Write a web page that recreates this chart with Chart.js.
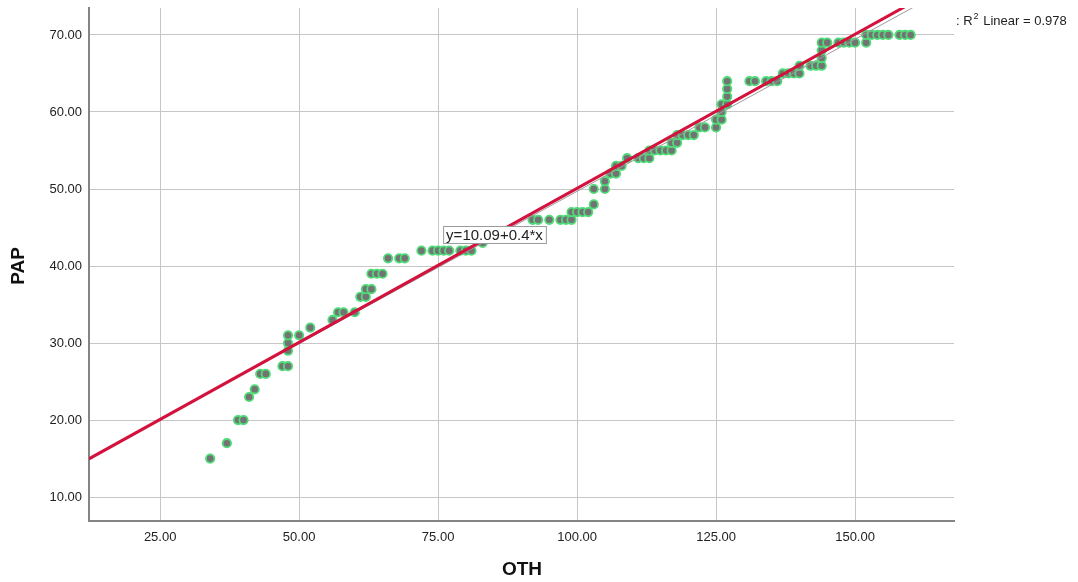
<!DOCTYPE html>
<html>
<head>
<meta charset="utf-8">
<script src="https://cdn.jsdelivr.net/npm/chart.js@4.4.0/dist/chart.umd.min.js"></script>
<style>
  html, body { margin: 0; padding: 0; background: #fff; }
  #wrap { width: 1078px; height: 582px; }
</style>
</head>
<body>
<div id="wrap"><canvas id="chart" width="1078" height="582"></canvas></div>
<script>
// observed values (OTH on x, PAP on y)
const othValues = [34, 37, 39, 40, 41, 42, 43, 44, 47, 48, 48, 48, 48, 50, 52, 56, 57, 58, 60, 61,
  62, 62, 63, 63, 64, 65, 66, 68, 69, 72, 74, 75, 76, 77, 79, 80, 81, 83, 92, 93,
  95, 97, 98, 99, 99, 100, 101, 102, 103, 103, 105, 105, 106, 107, 107, 108, 109, 111, 112, 113,
  113, 114, 115, 116, 117, 117, 118, 118, 119, 120, 121, 122, 123, 125, 125, 126, 126, 126, 127, 127,
  127, 127, 131, 132, 134, 135, 136, 137, 138, 139, 140, 140, 142, 143, 144, 144, 144, 144, 145, 147,
  148, 149, 150, 152, 152, 153, 154, 155, 156, 158, 159, 160];
const papValues = [15, 17, 20, 20, 23, 24, 26, 26, 27, 27, 29, 30, 31, 31, 32, 33, 34, 34, 34, 36,
  36, 37, 37, 39, 39, 39, 41, 41, 41, 42, 42, 42, 42, 42, 42, 42, 42, 43, 46, 46,
  46, 46, 46, 46, 47, 47, 47, 47, 48, 50, 50, 51, 52, 52, 53, 53, 54, 54, 54, 54,
  55, 55, 55, 55, 55, 56, 56, 57, 57, 57, 57, 58, 58, 58, 59, 59, 60, 61, 61, 62,
  63, 64, 64, 64, 64, 64, 64, 65, 65, 65, 65, 66, 66, 66, 66, 67, 68, 69, 69, 69,
  69, 69, 69, 69, 70, 70, 70, 70, 70, 70, 70, 70];

const xTicks = [25, 50, 75, 100, 125, 150];
const yTicks = [10, 20, 30, 40, 50, 60, 70];
const xRange = [12.2, 167.8];
const yRange = [6.9, 73.5];

// fit line shown in the chart, plus the thin grey reference fit
const fitIntercept = 10.09;
const fitSlope = 0.4;
const refIntercept = 10.2;
const refSlope = 0.395;
const rSquared = 0.978;

const FONT = "'Liberation Sans', Arial, sans-serif";

function lineThrough(a, b) {
  return xRange.map(x => ({ x: x, y: a + b * x }));
}

const scatterPoints = othValues.map((x, i) => ({ x: x, y: papValues[i] }));

const textPlugin = {
  id: 'textPlugin',
  afterDraw(chart) {
    const ctx = chart.ctx;
    const xs = chart.scales.x, ys = chart.scales.y;
    ctx.save();

    // axis titles
    ctx.fillStyle = '#111';
    ctx.font = 'bold 19px ' + FONT;
    ctx.textAlign = 'center';
    ctx.textBaseline = 'middle';
    ctx.fillText('OTH', 522, 570);
    ctx.save();
    ctx.translate(19, 266);
    ctx.rotate(-Math.PI / 2);
    ctx.fillText('PAP', 0, 0);
    ctx.restore();

    // equation label
    const eq = 'y=' + fitIntercept + '+' + fitSlope + '*x';
    ctx.font = '15px ' + FONT;
    const w = ctx.measureText(eq).width + 6;
    const left = xs.getPixelForValue(75.9), top = ys.getPixelForValue(45.2);
    ctx.fillStyle = '#fff';
    ctx.fillRect(left, top, w, 17);
    ctx.strokeStyle = '#9a9a9a';
    ctx.lineWidth = 1;
    ctx.strokeRect(left + 0.5, top + 0.5, w, 17);
    ctx.fillStyle = '#222';
    ctx.textAlign = 'left';
    ctx.fillText(eq, left + 3, top + 9.5);

    // R squared note
    ctx.font = '13px ' + FONT;
    ctx.textBaseline = 'alphabetic';
    let px = 956;
    ctx.fillText(': R', px, 25);
    px += ctx.measureText(': R').width;
    ctx.font = '9px ' + FONT;
    ctx.fillText('2', px + 1, 19);
    px += ctx.measureText('2').width + 2;
    ctx.font = '13px ' + FONT;
    ctx.fillText(' Linear = ' + rSquared, px, 25);
    ctx.restore();
  }
};

new Chart(document.getElementById('chart'), {
  type: 'scatter',
  data: {
    datasets: [
      {
        type: 'line',
        data: lineThrough(fitIntercept, fitSlope),
        borderColor: '#d3123d',
        borderWidth: 3,
        pointRadius: 0,
        order: 0
      },
      {
        type: 'line',
        data: lineThrough(refIntercept, refSlope),
        borderColor: '#9b9b9b',
        borderWidth: 1,
        pointRadius: 0,
        order: 1
      },
      {
        data: scatterPoints,
        backgroundColor: '#737373',
        borderColor: '#4fdc78',
        borderWidth: 1.8,
        pointRadius: 4.2,
        order: 2
      }
    ]
  },
  options: {
    responsive: false,
    animation: false,
    layout: { padding: { top: 8, right: 124, left: 0, bottom: 0 } },
    plugins: {
      legend: { display: false },
      tooltip: { enabled: false }
    },
    scales: {
      x: {
        type: 'linear',
        min: xRange[0],
        max: xRange[1],
        afterBuildTicks: s => { s.ticks = xTicks.map(v => ({ value: v })); },
        afterFit: s => { s.height = 61; s.paddingLeft = 0; s.paddingRight = 0; },
        grid: { color: '#c6c6c6', lineWidth: 1, drawTicks: false },
        border: { color: '#858585', width: 2 },
        ticks: {
          padding: 9,
          color: '#222',
          font: { family: FONT, size: 13 },
          callback: v => Number(v).toFixed(2)
        }
      },
      y: {
        type: 'linear',
        min: yRange[0],
        max: yRange[1],
        afterBuildTicks: s => { s.ticks = yTicks.map(v => ({ value: v })); },
        afterFit: s => { s.width = 89; s.paddingTop = 0; s.paddingBottom = 0; },
        grid: { color: '#c6c6c6', lineWidth: 1, drawTicks: false },
        border: { color: '#858585', width: 2 },
        ticks: {
          padding: 7,
          color: '#222',
          font: { family: FONT, size: 13 },
          callback: v => Number(v).toFixed(2)
        }
      }
    }
  },
  plugins: [textPlugin]
});
</script>
</body>
</html>
